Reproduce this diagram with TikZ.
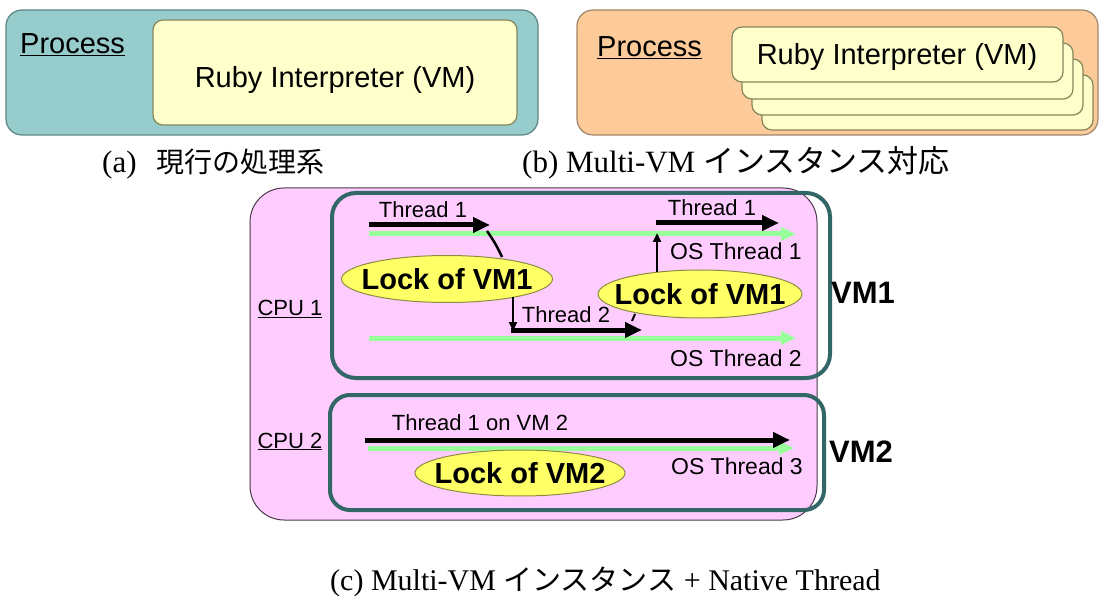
\documentclass[tikz,border=0pt]{standalone}
\usepackage{fontspec}
\setmainfont{Liberation Serif}
\setsansfont{Liberation Sans}
\newfontfamily\jpfont{Noto Sans CJK JP}
\usetikzlibrary{arrows.meta,shapes.geometric}

\definecolor{tealfill}{HTML}{96CCCC}
\definecolor{tealedge}{HTML}{5E8484}
\definecolor{peachfill}{HTML}{FCCB99}
\definecolor{peachedge}{HTML}{A0866A}
\definecolor{palefill}{HTML}{FFFFCC}
\definecolor{paleedge}{HTML}{85855C}
\definecolor{pinkfill}{HTML}{FFCCFF}
\definecolor{pinkedge}{HTML}{4A3A4A}
\definecolor{vmedge}{HTML}{336666}
\definecolor{osgreen}{HTML}{99FF99}
\definecolor{lockfill}{HTML}{FFFF66}
\definecolor{lockedge}{HTML}{8C8C40}

\tikzset{
  procbox/.style={draw=tealedge, fill=tealfill, line width=1.2pt, rounded corners=16pt},
  peachbox/.style={draw=peachedge, fill=peachfill, line width=1.2pt, rounded corners=16pt},
  vmpanel/.style={draw=paleedge, fill=palefill, line width=1.2pt, rounded corners=10pt},
  cpuarea/.style={draw=pinkedge, fill=pinkfill, line width=1pt, rounded corners=34pt},
  vmframe/.style={draw=vmedge, line width=4pt, rounded corners=24pt},
  sanslabel/.style={font=\sffamily\fontsize{29}{29}\selectfont, inner sep=0pt, anchor=base},
  thlabel/.style={font=\sffamily\fontsize{22}{22}\selectfont, inner sep=0pt, anchor=base},
  oslabel/.style={font=\sffamily\fontsize{23}{23}\selectfont, inner sep=0pt, anchor=base east},
  vmlabel/.style={font=\sffamily\bfseries\fontsize{31}{31}\selectfont, inner sep=0pt, anchor=base},
  caption/.style={font=\rmfamily\fontsize{31}{31}\selectfont, inner sep=0pt, anchor=base west},
  lock/.style={ellipse, draw=lockedge, fill=lockfill, line width=1pt, inner sep=0pt},
  locktext/.style={font=\sffamily\bfseries\fontsize{29}{29}\selectfont, inner sep=0pt},
  thread/.style={line width=5pt, -{Triangle[length=17pt,width=15pt]}},
  osline/.style={draw=osgreen, line width=5pt, -{Triangle[length=15pt,width=13pt]}},
  handoff/.style={line width=2.5pt, -{Triangle[length=9pt,width=8pt]}},
}

\begin{document}
\begin{tikzpicture}[x=1pt, y=-1pt]
\useasboundingbox (0,0) rectangle (1101,596);

% ---- (a) single interpreter per process
\draw[procbox] (6,10) rectangle (538,135);
\draw[vmpanel] (153,20) rectangle (517,125);
\node[sanslabel, anchor=base west] (procA) at (20,54) {\underline{Process}};
\node[sanslabel] (vmA) at (335,88) {Ruby Interpreter (VM)};
\node[caption] (capA) at (102,173) {(a)\hspace{20pt}{\jpfont\fontsize{28}{28}\selectfont 現行の処理系}};

% ---- (b) several interpreters in one process
\draw[peachbox] (577,10) rectangle (1098,135);
\draw[vmpanel] (762,75) rectangle (1093,130);
\draw[vmpanel] (752,59) rectangle (1083,115);
\draw[vmpanel] (742,43) rectangle (1073,99);
\draw[vmpanel] (732,27) rectangle (1063,82);
\node[sanslabel, anchor=base west] (procB) at (597,57) {\underline{Process}};
\node[sanslabel] (vmB) at (897,65) {Ruby Interpreter (VM)};
\node[caption] (capB) at (522,173) {(b) Multi-VM {\jpfont\fontsize{31}{31}\selectfont インスタンス対応}};

% ---- (c) several interpreters with native threads
\draw[cpuarea] (250,188) rectangle (817,520);
\draw[vmframe] (332,193) rectangle (830,378);
\draw[vmframe, rounded corners=20pt] (330,395) rectangle (824,510);

\node[sanslabel, font=\sffamily\fontsize{22}{22}\selectfont] (cpu1) at (290,316) {\underline{CPU 1}};
\node[sanslabel, font=\sffamily\fontsize{22}{22}\selectfont] (cpu2) at (290,448) {\underline{CPU 2}};
\node[vmlabel] (vm1) at (863,304) {VM1};
\node[vmlabel] (vm2) at (861,462) {VM2};

% OS threads
\coordinate (os1a) at (369,234); \coordinate (os1b) at (796,234);
\coordinate (os2a) at (369,338); \coordinate (os2b) at (796,338);
\coordinate (os3a) at (368,448); \coordinate (os3b) at (794,448);
\draw[osline] (os1a) -- (os1b);
\draw[osline] (os2a) -- (os2b);
\draw[osline] (os3a) -- (os3b);
\node[oslabel] (os1) at (802,260) {OS Thread 1};
\node[oslabel] (os2) at (802,366) {OS Thread 2};
\node[oslabel] (os3) at (803,474) {OS Thread 3};

% locks
\node[lock, minimum width=211pt, minimum height=47pt] (lockA) at (447,279) {};
\node[locktext] (lockAtxt) at (lockA.center) {Lock of VM1};
\node[lock, minimum width=204pt, minimum height=48pt] (lockB) at (700,294) {};
\node[locktext] (lockBtxt) at (lockB.center) {Lock of VM1};
\node[lock, minimum width=210pt, minimum height=46pt] (lockC) at (520,473) {};
\node[locktext] (lockCtxt) at (lockC.center) {Lock of VM2};

% ruby threads on VM1
\coordinate (t1a) at (369,225); \coordinate (t1b) at (490,225);
\draw[thread] (t1a) -- (t1b);
\node[thlabel] (t1lab) at (423,218) {Thread 1};
\coordinate (t1c) at (487,231); \coordinate (lockAin) at (502,257);
\draw[line width=2.5pt] (t1c) to[bend left=5] (lockAin);

\coordinate (lockAout) at (513,297); \coordinate (t2a) at (513,331);
\draw[handoff] (lockAout) -- (t2a);
\coordinate (t2s) at (511,330); \coordinate (t2b) at (642,330);
\draw[thread] (t2s) -- (t2b);
\node[thlabel] (t2lab) at (566,322) {Thread 2};
\coordinate (tickA) at (632,321); \coordinate (tickB) at (635,314);
\draw[line width=2pt] (tickA) -- (tickB);

\coordinate (lockBout) at (657,272); \coordinate (t1up) at (657,233);
\draw[handoff] (lockBout) -- (t1up);
\coordinate (t1d) at (656,223); \coordinate (t1e) at (779,223);
\draw[thread] (t1d) -- (t1e);
\node[thlabel] (t1rlab) at (712,216) {Thread 1};

% ruby thread on VM2
\coordinate (t3a) at (365,440); \coordinate (t3b) at (790,440);
\draw[thread] (t3a) -- (t3b);
\node[thlabel] (t3lab) at (480,430) {Thread 1 on VM 2};

\node[caption, font=\rmfamily\fontsize{30}{30}\selectfont] (capC) at (330,590) {(c) Multi-VM {\jpfont\fontsize{29}{29}\selectfont インスタンス} + Native Thread};
\end{tikzpicture}
\end{document}
